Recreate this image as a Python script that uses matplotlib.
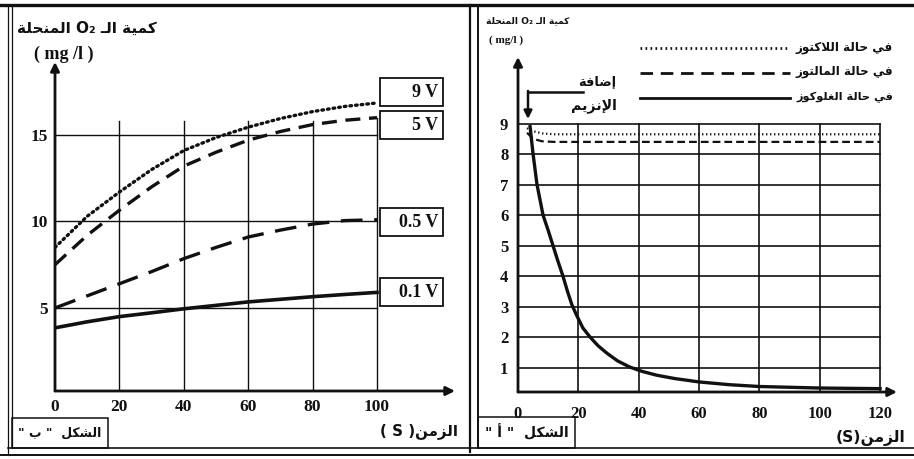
import matplotlib
matplotlib.use("Agg")
import matplotlib.pyplot as plt
from matplotlib.lines import Line2D
from matplotlib.patches import Rectangle

# ---------------- data ----------------
# Figure "ب" (left): dissolved O2 vs time for several voltages
time_b = [0, 10, 20, 30, 40, 50, 60, 70, 80, 90, 100]
o2_9V = [8.5, 10.3, 11.7, 13.0, 14.1, 14.85, 15.45, 15.95, 16.35, 16.65, 16.85]
o2_5V = [7.5, 9.2, 10.65, 12.0, 13.2, 14.0, 14.7, 15.2, 15.6, 15.85, 16.0]
o2_05V = [5.0, 5.7, 6.4, 7.1, 7.85, 8.5, 9.1, 9.5, 9.85, 10.05, 10.1]
o2_01V = [3.85, 4.2, 4.5, 4.72, 4.95, 5.15, 5.35, 5.5, 5.65, 5.78, 5.9]
voltage_labels = ["9 V", "5 V", "0.5 V", "0.1 V"]
xticks_b = [0, 20, 40, 60, 80, 100]
yticks_b = [5, 10, 15]

# Figure "أ" (right): dissolved O2 vs time for three sugars
time_lac = [3, 5, 8, 12, 20, 40, 60, 80, 100, 120]
o2_lactose = [8.85, 8.75, 8.68, 8.65, 8.65, 8.65, 8.65, 8.65, 8.65, 8.65]
time_mal = [3, 5, 8, 12, 20, 40, 60, 80, 100, 120]
o2_maltose = [8.7, 8.5, 8.42, 8.4, 8.4, 8.4, 8.4, 8.4, 8.4, 8.4]
time_glu = [4, 5, 6.3, 8.3, 10, 11.6, 13.2, 14.9, 16.4, 17.9, 19.5, 21.5, 23.9, 26.5,
            29.5, 33, 37, 41, 46, 52, 60, 70, 80, 100, 120]
o2_glucose = [8.9, 8.0, 7.0, 6.0, 5.5, 5.0, 4.5, 4.0, 3.5, 3.05, 2.7, 2.3, 2.0, 1.72,
              1.47, 1.22, 1.02, 0.88, 0.75, 0.64, 0.53, 0.44, 0.38, 0.33, 0.31]
xticks_a = [0, 20, 40, 60, 80, 100, 120]
yticks_a = [1, 2, 3, 4, 5, 6, 7, 8, 9]

# ---------------- minimal Arabic shaping ----------------
FORMS = {
    'ا': ('\uFE8D', '\uFE8E', None, None),
    'أ': ('\uFE83', '\uFE84', None, None),
    'إ': ('\uFE87', '\uFE88', None, None),
    'ب': ('\uFE8F', '\uFE90', '\uFE91', '\uFE92'),
    'ة': ('\uFE93', '\uFE94', None, None),
    'ت': ('\uFE95', '\uFE96', '\uFE97', '\uFE98'),
    'ح': ('\uFEA1', '\uFEA2', '\uFEA3', '\uFEA4'),
    'ر': ('\uFEAD', '\uFEAE', None, None),
    'ز': ('\uFEAF', '\uFEB0', None, None),
    'ش': ('\uFEB5', '\uFEB6', '\uFEB7', '\uFEB8'),
    'ض': ('\uFEBD', '\uFEBE', '\uFEBF', '\uFEC0'),
    'غ': ('\uFECD', '\uFECE', '\uFECF', '\uFED0'),
    'ف': ('\uFED1', '\uFED2', '\uFED3', '\uFED4'),
    'ك': ('\uFED9', '\uFEDA', '\uFEDB', '\uFEDC'),
    'ل': ('\uFEDD', '\uFEDE', '\uFEDF', '\uFEE0'),
    'م': ('\uFEE1', '\uFEE2', '\uFEE3', '\uFEE4'),
    'ن': ('\uFEE5', '\uFEE6', '\uFEE7', '\uFEE8'),
    'و': ('\uFEED', '\uFEEE', None, None),
    'ي': ('\uFEF1', '\uFEF2', '\uFEF3', '\uFEF4'),
    'ـ': ('\u0640', '\u0640', '\u0640', '\u0640'),
}
LAM_ALEF = {'ا': ('\uFEFB', '\uFEFC'), 'أ': ('\uFEF7', '\uFEF8'), 'إ': ('\uFEF9', '\uFEFA')}


def _dual(c):
    return c in FORMS and FORMS[c][2] is not None


def shape(s):
    out, i, n = [], 0, len(s)
    while i < n:
        c = s[i]
        if c not in FORMS:
            out.append(c)
            i += 1
            continue
        join_prev = i > 0 and _dual(s[i - 1])
        if c == 'ل' and i + 1 < n and s[i + 1] in LAM_ALEF:
            iso, fin = LAM_ALEF[s[i + 1]]
            out.append(fin if join_prev else iso)
            i += 2
            continue
        join_next = _dual(c) and i + 1 < n and s[i + 1] in FORMS
        iso, fin, ini, med = FORMS[c]
        out.append(med if (join_prev and join_next) else fin if join_prev else ini if join_next else iso)
        i += 1
    return ''.join(out)


def ar(s):
    return shape(s)[::-1]


# ---------------- figure ----------------
W, H = 914, 459
fig = plt.figure(figsize=(W / 100, H / 100), dpi=100)
fig.patch.set_facecolor("white")
INK = "#111111"
SERIF = ["Liberation Serif", "DejaVu Sans"]
ARAB = ["DejaVu Sans"]


def add_ax(l, t, r, b):
    return fig.add_axes([l / W, 1 - b / H, (r - l) / W, (b - t) / H])


def style_axes(ax, xticks, yticks, xpad, ypad, fs):
    for s in ax.spines.values():
        s.set_visible(False)
    ax.set_xticks(xticks)
    ax.set_yticks(yticks)
    ax.set_xticklabels([str(v) for v in xticks])
    ax.set_yticklabels([str(v) for v in yticks])
    ax.tick_params(axis="x", length=0, pad=xpad)
    ax.tick_params(axis="y", length=0, pad=ypad)
    for lab in ax.get_xticklabels() + ax.get_yticklabels():
        lab.set_fontfamily(SERIF)
        lab.set_fontweight("bold")
        lab.set_fontsize(fs)
        lab.set_color(INK)
    ax.set_facecolor("none")
    ax.annotate("", xy=(1, 0), xytext=(0, 0), xycoords="axes fraction",
                arrowprops=dict(arrowstyle="-|>", lw=2.0, color=INK, mutation_scale=13,
                                shrinkA=0, shrinkB=0))
    ax.annotate("", xy=(0, 1), xytext=(0, 0), xycoords="axes fraction",
                arrowprops=dict(arrowstyle="-|>", lw=2.0, color=INK, mutation_scale=13,
                                shrinkA=0, shrinkB=0))


# ---- left panel (figure ب)
axb = add_ax(55, 62, 455, 391)
axb.set_xlim(0, 400 / 3.22)
axb.set_ylim(0.2, 0.2 + 329 / 17.3)
style_axes(axb, xticks_b, yticks_b, 6, 5, 12.5)
for x in xticks_b[1:]:
    axb.plot([x, x], [0.2, 16.0 if x == 100 else 15.8], color=INK, lw=1.0)
for y in yticks_b:
    axb.plot([0, 100], [y, y], color=INK, lw=1.0)
axb.plot(time_b, o2_9V, color=INK, lw=2.4, linestyle=(0, (0.5, 1.2)), dash_capstyle="round")
axb.plot(time_b, o2_5V, color=INK, lw=2.4, linestyle=(0, (4.5, 2.6)))
axb.plot(time_b, o2_05V, color=INK, lw=2.4, linestyle=(0, (6.5, 3.5)))
axb.plot(time_b, o2_01V, color=INK, lw=2.6)

# ---- right panel (figure أ)
axa = add_ax(518, 57, 897, 392)
axa.set_xlim(0, 379 / 3.017)
axa.set_ylim(0.2, 0.2 + 335 / 30.5)
style_axes(axa, xticks_a, yticks_a, 10, 7, 12)
for x in xticks_a[1:]:
    axa.plot([x, x], [0.2, 9], color=INK, lw=1.2)
for y in yticks_a:
    axa.plot([0, 120], [y, y], color=INK, lw=1.2)
axa.plot(time_lac, o2_lactose, color=INK, lw=1.6, linestyle=(0, (0.6, 1.2)))
axa.plot(time_mal, o2_maltose, color=INK, lw=1.6, linestyle=(0, (3.5, 1.8)))
axa.plot(time_glu, o2_glucose, color=INK, lw=2.4, solid_joinstyle="round")

# ---------------- overlay (pixel coordinates) ----------------
ov = fig.add_axes([0, 0, 1, 1])
ov.set_xlim(0, W)
ov.set_ylim(H, 0)
ov.axis("off")
ov.set_facecolor("none")
renderer = fig.canvas.get_renderer()


def fit_text(x, y, s, width, ha, family=ARAB, weight="bold", maxsize=30, **kw):
    t = ov.text(x, y, s, ha=ha, va="center", fontsize=10, family=family,
                fontweight=weight, color=INK, **kw)
    w = t.get_window_extent(renderer).width
    t.set_fontsize(min(maxsize, 10 * width / w))
    return t


def line(xs, ys, lw=1.2, **kw):
    ov.add_line(Line2D(xs, ys, color=INK, lw=lw, **kw))


# frames
line([0, W], [5, 5], lw=2.4)
line([8, 8], [5, 455], lw=0.9)
line([12, 12], [5, 448], lw=0.9)
line([470, 470], [5, 452], lw=1.6)
line([478, 478], [5, 448], lw=1.4)
line([8, W], [448, 448], lw=1.2)
line([0, W], [455, 455], lw=1.4)

# left panel texts
fit_text(17, 28, ar('المنحلة') + ' O₂ ' + ar('كمية الـ'), 140, "left")
ov.text(64, 54, "( mg /l )", ha="center", va="center", fontsize=13,
        family=SERIF, fontweight="bold", color=INK)
box_tops = [78, 111, 208, 278]
for top, lab in zip(box_tops, voltage_labels):
    ov.add_patch(Rectangle((380, top), 63, 28, fill=True, facecolor="white",
                           edgecolor=INK, lw=1.3))
    ov.text(438, top + 14.5, lab, ha="right", va="center", fontsize=13,
            family=SERIF, fontweight="bold", color=INK)
ov.add_patch(Rectangle((12, 418), 96, 30, fill=False, edgecolor=INK, lw=1.1))
fit_text(60, 433, '" ' + ar('ب') + ' "  ' + ar('الشكل'), 84, "center")
fit_text(458, 431, "( S )" + ar('الزمن'), 78, "right")

# right panel texts
fit_text(486, 21, ar('المنحلة') + ' O₂ ' + ar('كمية الـ'), 84, "left")
ov.text(506, 40, "( mg/l )", ha="center", va="center", fontsize=8,
        family=SERIF, fontweight="bold", color=INK)
legend_rows = [(47, 'في حالة اللاكتوز', (0, (0.6, 1.2))),
               (72, 'في حالة المالتوز', (0, (4.5, 2.8))),
               (97, 'في حالة الغلوكوز', "-")]
for y, lab, ls in legend_rows:
    line([640, 790], [y + 1, y + 1], lw=2.0, linestyle=ls)
    fit_text(893, y, ar(lab), 98, "right")
fit_text(597, 82, ar('إضافة'), 38, "center")
fit_text(594, 106, ar('الإنزيم'), 46, "center")
line([583, 528], [92, 92], lw=1.8)
ov.annotate("", xy=(528, 119), xytext=(528, 91), xycoords="data",
            arrowprops=dict(arrowstyle="-|>", lw=1.8, color=INK, mutation_scale=12,
                            shrinkA=0, shrinkB=0))
ov.add_patch(Rectangle((478, 417), 97, 31, fill=False, edgecolor=INK, lw=1.1))
fit_text(527, 432, '" ' + ar('أ') + ' "  ' + ar('الشكل'), 84, "center")
fit_text(905, 438, "(S)" + ar('الزمن'), 70, "right")

fig.savefig("out.png", dpi=100, facecolor="white")
